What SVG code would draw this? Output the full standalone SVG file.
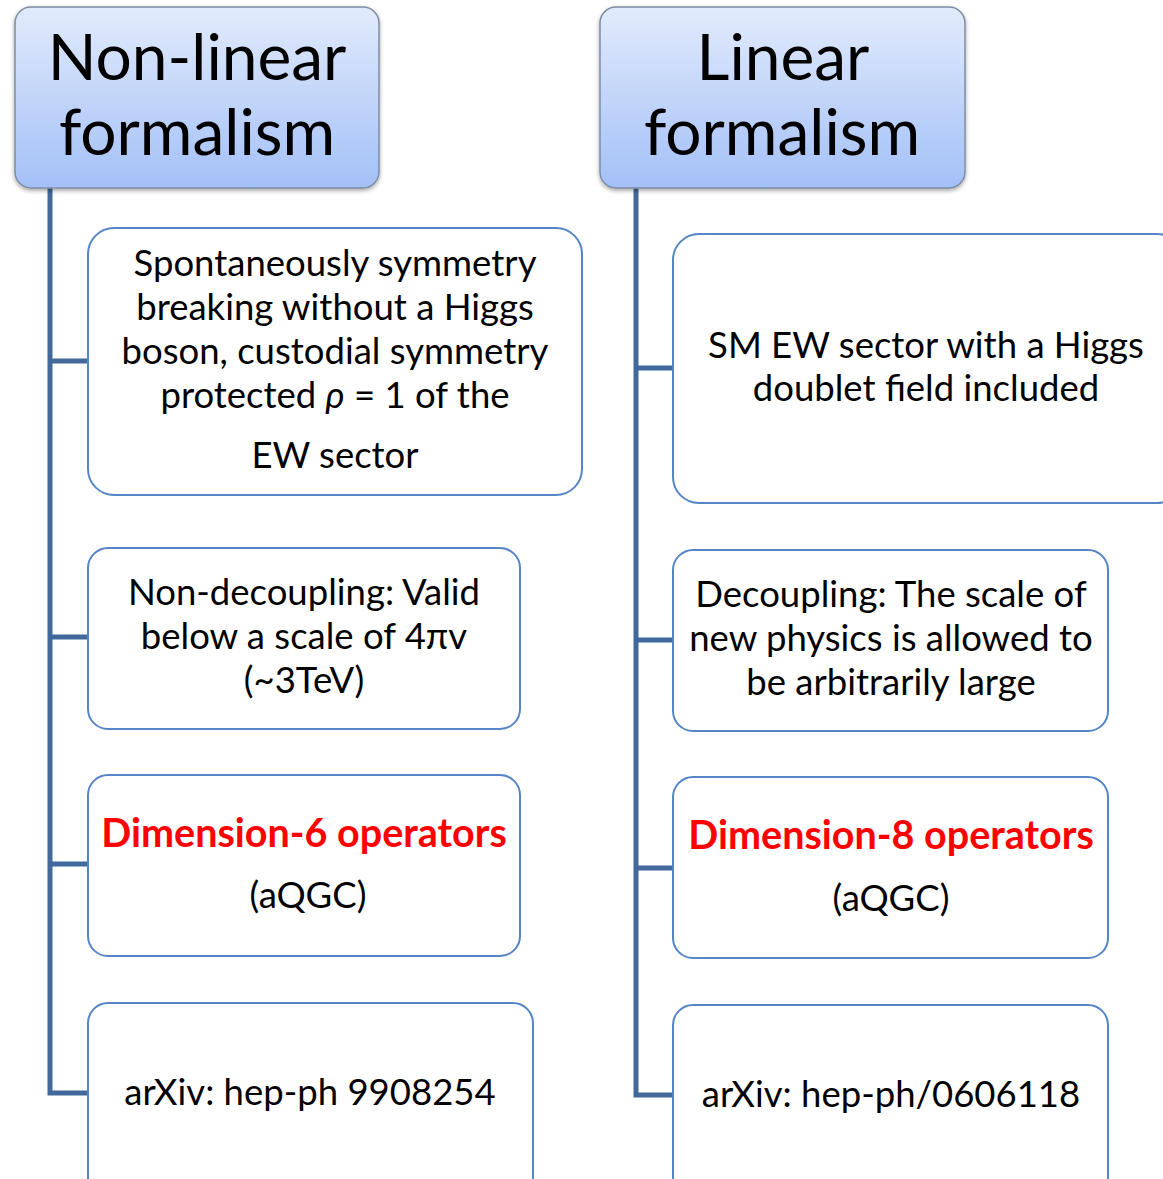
<svg xmlns="http://www.w3.org/2000/svg" width="1163" height="1179" viewBox="0 0 1163 1179">
  <defs>
    <linearGradient id="headFill" x1="0" y1="0" x2="0" y2="1">
      <stop offset="0" stop-color="#e2ebfc"/>
      <stop offset="1" stop-color="#a3c0f7"/>
    </linearGradient>
    <filter id="shadow" x="-10%" y="-10%" width="120%" height="125%">
      <feDropShadow dx="0" dy="2" stdDeviation="2" flood-color="#000" flood-opacity="0.35"/>
    </filter>
  </defs>
  <style>
    .head { fill: url(#headFill); stroke: #7d8da3; stroke-width: 1.5; filter: url(#shadow); }
    .box { fill: #ffffff; stroke: #5585c6; stroke-width: 2; }
    .wire { fill: none; stroke: #41699b; stroke-width: 5; }
    text { font-family: Lato, "Open Sans", "Liberation Sans", sans-serif; fill: #000; text-anchor: middle; }
    .title { font-size: 64px; }
    .body { font-size: 36.5px; }
    .red { font-size: 39.5px; font-weight: bold; fill: #ff0000; }
  </style>
  <rect width="1163" height="1179" fill="#ffffff"/>

  <!-- tree connectors -->
  <g id="connectors">
    <path class="wire" d="M50,188 V1093 H88 M50,361 H88 M50,637 H88 M50,864 H88"/>
    <path class="wire" d="M636,188 V1095 H673 M636,368 H673 M636,640 H673 M636,868 H673"/>
  </g>

  <!-- non-linear column -->
  <g id="head-nonlinear">
    <rect class="head" x="15" y="7" width="364" height="181" rx="16"/>
    <text class="title" x="197" y="80">Non-linear</text>
    <text class="title" x="197" y="155">formalism</text>
  </g>
  <g id="nl-ssb">
    <rect class="box" x="88" y="228" width="494" height="267" rx="26"/>
    <text class="body" x="335" y="276">Spontaneously symmetry</text>
    <text class="body" x="335" y="320">breaking without a Higgs</text>
    <text class="body" x="335" y="364">boson, custodial symmetry</text>
    <text class="body" x="335" y="408">protected <tspan font-style="italic">ρ</tspan> = 1 of the</text>
    <text class="body" x="335" y="468">EW sector</text>
  </g>
  <g id="nl-decoupling">
    <rect class="box" x="88" y="548" width="432" height="181" rx="20"/>
    <text class="body" x="304" y="605">Non-decoupling: Valid</text>
    <text class="body" x="304" y="649">below a scale of 4πv</text>
    <text class="body" x="304" y="693">(~3TeV)</text>
  </g>
  <g id="nl-dim6">
    <rect class="box" x="88" y="775" width="432" height="181" rx="20"/>
    <text class="red" x="304" y="847">Dimension-6 operators</text>
    <text class="body" x="308" y="908">(aQGC)</text>
  </g>
  <g id="nl-ref">
    <rect class="box" x="88" y="1003" width="445" height="200" rx="20"/>
    <text class="body" x="310" y="1105">arXiv: hep-ph 9908254</text>
  </g>

  <!-- linear column -->
  <g id="head-linear">
    <rect class="head" x="600" y="7" width="365" height="181" rx="16"/>
    <text class="title" x="783" y="80">Linear</text>
    <text class="title" x="782" y="155">formalism</text>
  </g>
  <g id="l-sm">
    <rect class="box" x="673" y="234" width="510" height="269" rx="26"/>
    <text class="body" x="926" y="358">SM EW sector with a Higgs</text>
    <text class="body" x="926" y="401">doublet field included</text>
  </g>
  <g id="l-decoupling">
    <rect class="box" x="673" y="550" width="435" height="181" rx="20"/>
    <text class="body" x="891" y="607">Decoupling: The scale of</text>
    <text class="body" x="891" y="651">new physics is allowed to</text>
    <text class="body" x="891" y="695">be arbitrarily large</text>
  </g>
  <g id="l-dim8">
    <rect class="box" x="673" y="777" width="435" height="181" rx="20"/>
    <text class="red" x="891" y="849">Dimension-8 operators</text>
    <text class="body" x="891" y="911">(aQGC)</text>
  </g>
  <g id="l-ref">
    <rect class="box" x="673" y="1005" width="435" height="200" rx="20"/>
    <text class="body" x="891" y="1107">arXiv: hep-ph/0606118</text>
  </g>
</svg>
